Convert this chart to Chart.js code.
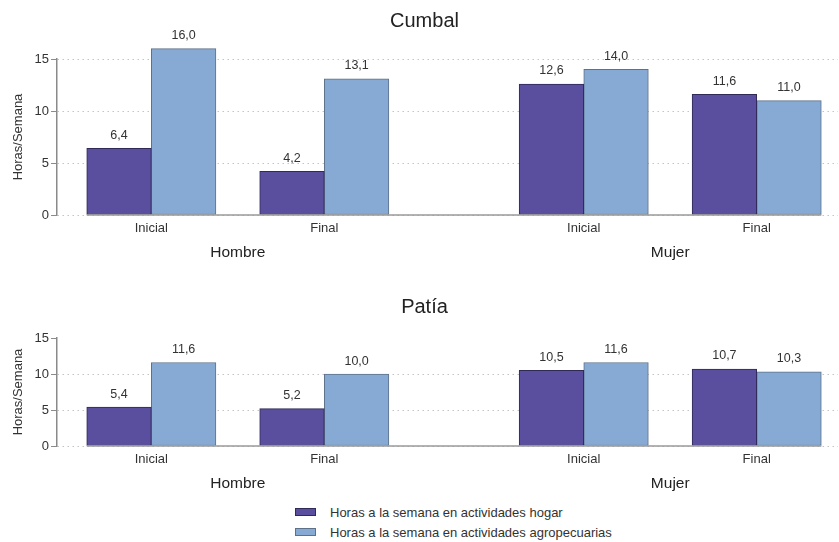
<!DOCTYPE html>
<html><head><meta charset="utf-8">
<script src="https://cdn.jsdelivr.net/npm/chart.js@4"></script>
<style>
html,body{margin:0;padding:0;background:#fff;}
body{width:839px;height:542px;position:relative;overflow:hidden;font-family:"Liberation Sans",Arial,sans-serif;}
.wrap{position:absolute;left:0;width:839px;}
#legend{position:absolute;left:295px;top:502px;font-size:13px;color:#333;}
.li{display:flex;align-items:center;height:20px;white-space:nowrap;}
.sw{width:19px;height:6px;border:1px solid;margin-right:14px;}
</style></head><body>
<div class="wrap" style="top:0;height:268px"><canvas id="c1"></canvas></div>
<div class="wrap" style="top:280px;height:219px"><canvas id="c2"></canvas></div>
<div id="legend"></div>
<script>
// ---- data ----
const groups = ['Hombre', 'Mujer'];
const periods = ['Inicial', 'Final'];
const seriesNames = ['Horas a la semana en actividades hogar', 'Horas a la semana en actividades agropecuarias'];
const panelTitles = ['Cumbal', 'Patía'];
const cumbalHogar = [6.4, 4.2, 12.6, 11.6];
const cumbalAgro  = [16.0, 13.1, 14.0, 11.0];
const patiaHogar  = [5.4, 5.2, 10.5, 10.7];
const patiaAgro   = [11.6, 10.0, 11.6, 10.3];
const yTickValues = [0, 5, 10, 15];
const yAxisTitle = 'Horas/Semana';

// ---- style / layout ----
const FONT = '"Liberation Sans", Arial, sans-serif';
const fills = ['#5a4e9e', '#86aad4'];
const borders = ['#2f2a58', '#5d7189'];
const TEXT = '#333';
const GROUP_STEP = 5, PERIOD_STEP = 2;
const X_MIN = -1.09, X_MAX = 7.94;

function slot(i) { // index in group-major order -> position on x scale
  const g = Math.floor(i / periods.length), p = i % periods.length;
  return g * GROUP_STEP + p * PERIOD_STEP;
}
const periodSlots = [];
groups.forEach((g, gi) => periods.forEach((p, pi) => periodSlots.push(gi * GROUP_STEP + pi * PERIOD_STEP)));
const groupSlots = groups.map((g, gi) => gi * GROUP_STEP + (periods.length - 1) * PERIOD_STEP / 2);

const fmt = v => v.toFixed(1).replace('.', ',');

const valueLabels = {
  id: 'valueLabels',
  afterDatasetsDraw(chart) {
    const ctx = chart.ctx;
    ctx.save();
    let minX = Infinity, maxX = -Infinity, baseY = null;
    chart.data.datasets.forEach((ds, di) => {
      chart.getDatasetMeta(di).data.forEach(el => {
        minX = Math.min(minX, el.x - el.width / 2);
        maxX = Math.max(maxX, el.x + el.width / 2);
        baseY = el.base;
      });
    });
    ctx.strokeStyle = '#9a9a9a';
    ctx.lineWidth = 1.5;
    ctx.beginPath(); ctx.moveTo(minX, baseY + 0.5); ctx.lineTo(maxX, baseY + 0.5); ctx.stroke();
    ctx.font = '12.5px ' + FONT;
    ctx.fillStyle = TEXT;
    ctx.textAlign = 'center';
    ctx.textBaseline = 'alphabetic';
    chart.data.datasets.forEach((ds, di) => {
      chart.getDatasetMeta(di).data.forEach((el, i) => {
        ctx.fillText(fmt(ds.data[i].y), el.x, el.y - 9.5);
      });
    });
    ctx.restore();
  }
};

function makeChart(id, title, hogar, agro, hide15, titlePad) {
  const series = [hogar, agro];
  return new Chart(document.getElementById(id), {
    type: 'bar',
    data: {
      datasets: series.map((arr, si) => ({
        label: seriesNames[si],
        data: arr.map((v, i) => ({ x: slot(i), y: v })),
        backgroundColor: fills[si],
        borderColor: borders[si],
        borderWidth: 1,
        borderSkipped: false,
        barThickness: 64.6,
        clip: false
      }))
    },
    options: {
      responsive: true,
      maintainAspectRatio: false,
      animation: false,
      layout: { padding: { left: 11, right: 1, top: 0, bottom: 6 } },
      plugins: {
        legend: { display: false },
        tooltip: { enabled: false },
        title: {
          display: true, text: title, color: '#222',
          font: { family: FONT, size: 20, weight: 'normal' },
          padding: titlePad
        }
      },
      scales: {
        x: {
          type: 'linear', min: X_MIN, max: X_MAX, offset: false, weight: 0,
          afterBuildTicks: s => { s.ticks = periodSlots.map(v => ({ value: v })); },
          afterFit: s => { s.height = 22; },
          ticks: {
            autoSkip: false, maxRotation: 0, padding: 6, color: TEXT,
            font: { family: FONT, size: 13 },
            callback: (v, i) => periods[i % periods.length]
          },
          grid: { display: false, drawTicks: false },
          border: { display: false }
        },
        xg: {
          type: 'linear', position: 'bottom', min: X_MIN, max: X_MAX, offset: false, weight: 1,
          afterBuildTicks: s => { s.ticks = groupSlots.map(v => ({ value: v })); },
          afterFit: s => { s.height = 25; },
          ticks: {
            autoSkip: false, maxRotation: 0, padding: 6.5, color: '#222',
            font: { family: FONT, size: 15.5 },
            callback: (v, i) => groups[i]
          },
          grid: { display: false, drawTicks: false },
          border: { display: false }
        },
        y: {
          min: 0, max: 15,
          afterBuildTicks: s => { s.ticks = yTickValues.map(v => ({ value: v })); },
          ticks: { padding: 2, color: TEXT, font: { family: FONT, size: 13 } },
          title: {
            display: true, text: yAxisTitle, color: TEXT,
            font: { family: FONT, size: 13 }, padding: { top: 0, bottom: 6 }
          },
          grid: {
            color: c => (hide15 && c.tick && c.tick.value === 15) ? 'rgba(0,0,0,0)' : '#c4c4c4',
            lineWidth: 1,
            tickColor: '#8a8a8a', tickLength: 6, tickWidth: 1
          },
          border: { display: true, color: '#8a8a8a', width: 1.5, dash: [1.5, 3.5] }
        }
      }
    },
    plugins: [valueLabels]
  });
}

makeChart('c1', panelTitles[0], cumbalHogar, cumbalAgro, false, { top: 9, bottom: 26 });
makeChart('c2', panelTitles[1], patiaHogar, patiaAgro, true, { top: 15, bottom: 19 });

// legend
const lg = document.getElementById('legend');
seriesNames.forEach((n, i) => {
  const d = document.createElement('div'); d.className = 'li';
  const s = document.createElement('span'); s.className = 'sw';
  s.style.background = fills[i]; s.style.borderColor = borders[i];
  const t = document.createElement('span'); t.textContent = n;
  d.appendChild(s); d.appendChild(t); lg.appendChild(d);
});
</script>
</body></html>
